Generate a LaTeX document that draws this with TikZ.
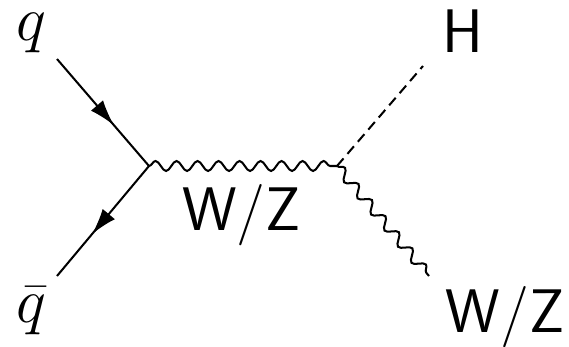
\documentclass[tikz,border=0pt]{standalone}
\usepackage{amsmath}
\usepackage{tikz}
\usetikzlibrary{positioning,arrows.meta,decorations.pathmorphing,decorations.markings}

\begin{document}
\begin{tikzpicture}[line width=1.15pt,
    fermion/.style={postaction={decorate},
        decoration={markings, mark=at position 0.62 with {\arrow{Latex[length=0.52cm,width=0.32cm]}}}},
    boson/.style={decorate, decoration={snake, segment length=0.42cm, amplitude=0.1cm}},
    scalar/.style={dash pattern=on 0.2cm off 0.12cm},
    lbl/.style={anchor=base, inner sep=0pt, font=\fontsize{35}{40}\selectfont},
    mlbl/.style={anchor=base, inner sep=0pt, scale=1.45, font=\fontsize{24.88}{30}\selectfont}]
    \useasboundingbox (0,0) rectangle (11.38,6.92);
    \coordinate (qin) at (1.14,5.74);
    \coordinate (qout) at (1.14,1.40);
    \coordinate (v1) at (2.98,3.60);
    \coordinate (v2) at (6.74,3.60);
    \coordinate (hend) at (8.46,5.60);
    \coordinate (wend) at (8.58,1.40);

    \draw[fermion] (qin) -- (v1);
    \draw[fermion] (v1) -- (qout);
    \draw[boson] (v1) -- (v2);
    \draw[scalar] (v2) -- (hend);
    \draw[boson] (v2) -- (wend);

    \node[mlbl] (q) at (0.62,6.1) {$q$};
    \node[mlbl] (qbar) at (0.62,0.47) {$\bar{q}$};
    \node[lbl] (h) at (9.25,5.88) {\sffamily H};
    \node[lbl] (wz) at (4.83,2.32) {\sffamily W/Z};
    \node[lbl] (wzout) at (10.1,0.28) {\sffamily W/Z};
\end{tikzpicture}
\end{document}
